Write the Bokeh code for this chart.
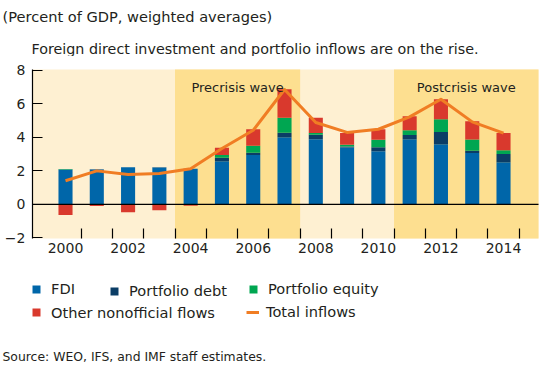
import numpy as np
from bokeh.plotting import figure
from bokeh.layouts import column
from bokeh.models import (ColumnDataSource, FixedTicker, BoxAnnotation, Label,
                          Legend, LegendItem, Range1d)
from bokeh.embed import file_html
from bokeh.resources import INLINE

# ---------------- data ----------------
years = list(range(2000, 2015))
fdi = [2.08, 2.08, 2.22, 2.20, 2.12, 2.58, 2.94, 4.01, 3.89, 3.39, 3.17, 3.89, 3.59, 3.06, 2.52]
portfolio_debt = [0.00, 0.02, 0.00, 0.02, 0.00, 0.20, 0.14, 0.26, 0.26, 0.06, 0.24, 0.24, 0.72, 0.14, 0.48]
portfolio_equity = [0.03, 0.00, 0.00, 0.00, 0.00, 0.16, 0.41, 0.89, 0.10, 0.10, 0.44, 0.29, 0.77, 0.67, 0.23]
other_flows = [-0.63, -0.10, -0.46, -0.34, -0.08, 0.43, 0.99, 1.71, 0.91, 0.70, 0.63, 0.84, 1.19, 1.09, 1.02]
total_inflows = [1.41, 2.00, 1.79, 1.84, 2.12, 3.33, 4.42, 6.85, 4.88, 4.29, 4.48, 5.22, 6.27, 4.92, 4.25]
series_names = ["FDI", "Portfolio debt", "Portfolio equity", "Other nonofficial flows"]
line_name = "Total inflows"
x_label_years = [2000, 2002, 2004, 2006, 2008, 2010, 2012, 2014]
y_ticks = [-2, 0, 2, 4, 6, 8]
wave_labels = ["Precrisis wave", "Postcrisis wave"]
wave_first_years = [2004, 2011]
wave_last_years = [2007, None]  # postcrisis wave runs on to the chart edge

title_text = "(Percent of GDP, weighted averages)"
subtitle_text = "Foreign direct investment and portfolio inflows are on the rise."
source_text = "Source: WEO, IFS, and IMF staff estimates."

# ---------------- style / layout ----------------
FONT = "DejaVu Sans"
TXT = "#231F20"
colors = ["#0066A9", "#0B3D66", "#00A651", "#D9392D"]
line_color = "#F07D24"
light_bg = "#FEF0D2"
dark_bg = "#FDDF90"

W = 546
HEAD_H, MAIN_H, FOOT_H = 56, 206, 103
BOX_LEFT_PX, BOX_RIGHT_PX = 32, 538     # page x of the chart box
BOX_TOP_PX, BOX_BOTTOM_PX = 69, 238     # page y of the chart box
XL, XR = 1998.945, 2015.118              # chart box edges in years
Y0, Y1 = -2.03, 8.04                     # chart box edges in percent
PX_PER_YEAR = (BOX_RIGHT_PX - BOX_LEFT_PX) / (XR - XL)
PX_PER_UNIT = (BOX_BOTTOM_PX - BOX_TOP_PX) / (Y1 - Y0)
X0 = XL - BOX_LEFT_PX / PX_PER_YEAR
X1 = XR + (W - BOX_RIGHT_PX) / PX_PER_YEAR
YB = Y0 - (HEAD_H + MAIN_H - BOX_BOTTOM_PX) / PX_PER_UNIT
YT = Y1 + (BOX_TOP_PX - HEAD_H) / PX_PER_UNIT


def text_panel(height, top):
    f = figure(width=W, height=height, output_backend="svg", toolbar_location=None,
               x_range=Range1d(0, W), y_range=Range1d(top + height, top),
               min_border_left=0, min_border_right=0,
               min_border_top=0, min_border_bottom=0,
               x_axis_location=None, y_axis_location=None)
    f.grid.visible = False
    f.outline_line_color = None
    f.background_fill_color = "white"
    f.border_fill_color = "white"
    return f


# ---------------- header ----------------
head = text_panel(HEAD_H, 0)
head.add_layout(Label(x=2, y=15.5, text=title_text, text_font=FONT, text_font_size="14.6px",
                      text_color=TXT, text_baseline="alphabetic"))
head.add_layout(Label(x=31, y=48, text=subtitle_text, text_font=FONT, text_font_size="14.3px",
                      text_color=TXT, text_baseline="alphabetic"))

# ---------------- main chart ----------------
p = figure(width=W, height=MAIN_H, output_backend="svg", toolbar_location=None,
           x_range=Range1d(X0, X1), y_range=Range1d(YB, YT),
           min_border_left=0, min_border_right=0,
           min_border_top=0, min_border_bottom=0)
p.background_fill_color = "white"
p.border_fill_color = "white"
p.outline_line_color = None
p.grid.visible = False

# chart box background and the two wave bands
p.add_layout(BoxAnnotation(left=XL, right=XR, bottom=Y0, top=Y1, fill_color=light_bg,
                           fill_alpha=1, line_color=None, level="underlay"))
for first, last in zip(wave_first_years, wave_last_years):
    p.add_layout(BoxAnnotation(left=first - 0.5, right=(last + 0.5) if last else XR,
                               bottom=Y0, top=Y1,
                               fill_color=dark_bg, fill_alpha=1, line_color=None,
                               level="underlay"))

pos_base = np.zeros(len(years))
neg_base = np.zeros(len(years))
sources = []
for name, vals, col in zip(series_names, [fdi, portfolio_debt, portfolio_equity, other_flows], colors):
    v = np.array(vals, dtype=float)
    bottom = np.where(v >= 0, pos_base, neg_base + v)
    top = np.where(v >= 0, pos_base + v, neg_base)
    pos_base = pos_base + np.where(v >= 0, v, 0)
    neg_base = neg_base + np.where(v < 0, v, 0)
    src = ColumnDataSource(dict(year=years, bottom=bottom, top=top))
    sources.append(src)
    p.vbar(x="year", width=0.45, bottom="bottom", top="top", source=src,
           fill_color=col, line_color=None)

# zero line across the chart box
p.segment(x0=[XL], y0=[0], x1=[XR], y1=[0], line_color="black", line_width=1.2)

line_src = ColumnDataSource(dict(year=years, total=total_inflows))
p.line(x="year", y="total", source=line_src, line_color=line_color, line_width=3,
       line_join="round")

for lab, first, last in zip(wave_labels, wave_first_years, wave_last_years):
    left = first - 0.5
    right = (last + 0.5) if last else XR
    p.add_layout(Label(x=(left + right) / 2, y=6.98, text=lab, text_align="center",
                       text_baseline="alphabetic", text_font=FONT, text_font_size="13px",
                       text_color=TXT))

xa = p.xaxis[0]
xa.fixed_location = Y0
xa.ticker = FixedTicker(ticks=x_label_years, minor_ticks=[y + 0.5 for y in years])
xa.axis_line_color = None
xa.major_tick_in = 0
xa.major_tick_out = 0
xa.minor_tick_in = 10
xa.minor_tick_out = 0
xa.minor_tick_line_color = "black"
xa.minor_tick_line_width = 1.2
xa.major_label_text_font = FONT
xa.major_label_text_font_size = "14px"
xa.major_label_text_color = TXT
xa.major_label_standoff = 4

ya = p.yaxis[0]
ya.fixed_location = XL
ya.bounds = (Y0, Y1)
ya.ticker = FixedTicker(ticks=y_ticks)
ya.axis_line_color = "black"
ya.axis_line_width = 1.2
ya.major_tick_in = 10
ya.major_tick_out = 0
ya.major_tick_line_width = 1.2
ya.minor_tick_line_color = None
ya.major_label_text_font = FONT
ya.major_label_text_font_size = "14px"
ya.major_label_text_color = TXT
ya.major_label_standoff = 7
ya.major_label_overrides = {t: ("\u2212" + str(abs(t)) if t < 0 else str(t)) for t in y_ticks}

# ---------------- footer: legend + source ----------------
foot_top = HEAD_H + MAIN_H
foot = text_panel(FOOT_H, foot_top)
leg_renderers = []
for src, col in zip(sources, colors):
    leg_renderers.append(foot.vbar(x="year", width=0.45, bottom="bottom", top="top", source=src,
                                   fill_color=col, line_color=None, visible=False))
leg_renderers.append(foot.line(x="year", y="total", source=line_src, line_color=line_color,
                               line_width=3, visible=False))

legend_names = series_names + [line_name]
# (page x of glyph, page y of item centre, glyph width)
legend_pos = [(31, 288.5, 10), (109, 290.5, 10), (248, 288.5, 10), (31, 312, 10), (246, 311.5, 13)]
page_bottom = foot_top + FOOT_H
for name, rend, (px, pcy, gw) in zip(legend_names, leg_renderers, legend_pos):
    lg = Legend(items=[LegendItem(label=name, renderers=[rend])],
                location=(px, page_bottom - (pcy + 8.5)),
                border_line_color=None, background_fill_alpha=0,
                inactive_fill_alpha=0,
                padding=0, margin=0, spacing=0,
                glyph_width=gw, glyph_height=10, label_standoff=20 - gw,
                label_text_font=FONT, label_text_font_size="14.6px",
                label_text_color=TXT, label_height=17)
    foot.add_layout(lg)

foot.add_layout(Label(x=2, y=355.5, text=source_text, text_font=FONT, text_font_size="12.4px",
                      text_color=TXT, text_baseline="alphabetic"))

layout = column(head, p, foot, spacing=0)
open("out.html", "w").write(file_html(layout, INLINE))
